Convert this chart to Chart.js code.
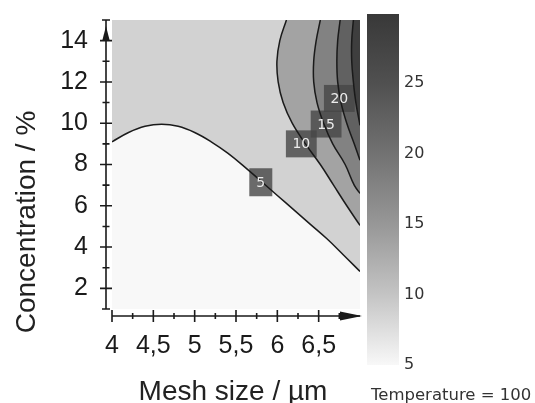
<!DOCTYPE html>
<html>
<head>
<meta charset="utf-8">
<script src="https://cdn.jsdelivr.net/npm/chart.js@4.4.0/dist/chart.umd.min.js"></script>
<style>
  html, body { margin: 0; padding: 0; background: #fff; }
</style>
</head>
<body>
<canvas id="grafico" width="535" height="403"></canvas>
<script>
// Contour lines (mesh size / µm, concentration / %)
const contour5X  = [4.0, 4.2, 4.4, 4.6, 4.8, 5.0, 5.2, 5.4, 5.6, 5.8, 6.0, 6.2, 6.4, 6.6, 6.8, 7.0];
const contour5Y  = [9.1, 9.55, 9.85, 9.95, 9.85, 9.55, 9.1, 8.55, 7.9, 7.2, 6.5, 5.8, 5.1, 4.4, 3.62, 2.82];
const contour10X = [6.11, 6.03, 5.995, 6.01, 6.07, 6.18, 6.34, 6.52, 6.68, 6.84, 7.0];
const contour10Y = [15, 14, 13, 12, 11, 10, 9, 8, 7, 6, 5.05];
const contour15X = [6.52, 6.47, 6.44, 6.44, 6.48, 6.56, 6.67, 6.82, 6.93, 7.0];
const contour15Y = [15, 14, 13, 12, 11, 10, 9, 8, 7, 6.6];
const contour20X = [6.76, 6.73, 6.72, 6.73, 6.77, 6.84, 6.93, 7.0];
const contour20Y = [15, 14, 13, 12, 11, 10, 9, 8.2];
const contour25X = [6.92, 6.90, 6.90, 6.92, 6.95, 7.0];
const contour25Y = [15, 14, 13, 12, 11, 9.9];

// contour labels
const labelX    = [5.80, 6.29, 6.59, 6.75];
const labelY    = [7.14, 9.0, 9.96, 11.2];
const labelText = ['5', '10', '15', '20'];

// axes
const xTicks = [4, 4.5, 5, 5.5, 6, 6.5];
const yTicks = [2, 4, 6, 8, 10, 12, 14];
const colorbarTicks = [5, 10, 15, 20, 25];
const colorbarMin = 5;
const colorbarMax = 30;

// band colours (>=5, >=10, >=15, >=20, >=25)
const bandColors = ['#d2d2d2', '#a3a3a3', '#828282', '#616161', '#3e3e3e'];

function puntos(xs, ys) {
    return xs.map((x, i) => ({ x: x, y: ys[i] }));
}

const lineas = [
    puntos(contour5X, contour5Y),
    puntos(contour10X, contour10Y),
    puntos(contour15X, contour15Y),
    puntos(contour20X, contour20Y),
    puntos(contour25X, contour25Y)
];

// region above each contour, closed through the plot corners (doubled points keep corners sharp)
function region(pts, corners) {
    const last = pts[pts.length - 1];
    const out = pts.slice();
    out.push(last);
    corners.forEach(c => { out.push(c); out.push(c); });
    return out;
}

const datasets = [];
lineas.forEach((pts, i) => {
    const corners = i === 0 ? [{ x: 7, y: 15 }, { x: 4, y: 15 }] : [{ x: 7, y: 15 }];
    datasets.push({
        data: region(pts, corners),
        showLine: true,
        fill: 'shape',
        backgroundColor: bandColors[i],
        borderWidth: 0,
        pointRadius: 0,
        tension: 0.4,
        order: 20 - i
    });
});
lineas.forEach(pts => {
    datasets.push({
        data: pts,
        showLine: true,
        fill: false,
        borderColor: '#1a1a1a',
        borderWidth: 1.5,
        pointRadius: 0,
        tension: 0.4,
        order: 1
    });
});

const fuente = "'Liberation Sans', Arial, sans-serif";
const fuenteCb = "'DejaVu Sans', sans-serif";

const dibujo = {
    id: 'dibujo',
    beforeDraw(chart) {
        const { ctx, chartArea: a } = chart;
        ctx.save();
        ctx.fillStyle = '#f8f8f8';
        ctx.fillRect(a.left, a.top, a.right - a.left, a.bottom - a.top);
        ctx.restore();
    },
    beforeDatasetsDraw(chart) {
        // label boxes (under the contour lines)
        const { ctx, scales: { x, y } } = chart;
        ctx.save();
        ctx.font = '14px ' + fuenteCb;
        labelText.forEach((t, i) => {
            const px = x.getPixelForValue(labelX[i]);
            const py = y.getPixelForValue(labelY[i]);
            const w = Math.max(23, ctx.measureText(t).width + 13);
            const h = t.length === 1 ? 28 : 27;
            ctx.fillStyle = 'rgba(70,70,70,0.8)';
            ctx.fillRect(px - w / 2, py - h / 2, w, h);
        });
        ctx.restore();
    },
    afterDatasetsDraw(chart) {
        const { ctx, scales: { x, y } } = chart;
        ctx.save();
        ctx.font = '14px ' + fuenteCb;
        ctx.fillStyle = '#ececec';
        ctx.textAlign = 'center';
        ctx.textBaseline = 'middle';
        labelText.forEach((t, i) => {
            ctx.fillText(t, x.getPixelForValue(labelX[i]), y.getPixelForValue(labelY[i]) + 1);
        });
        ctx.restore();
    },
    afterDraw(chart) {
        const { ctx, chartArea: a, scales: { x, y } } = chart;
        ctx.save();
        ctx.strokeStyle = '#1a1a1a';
        ctx.fillStyle = '#1a1a1a';
        ctx.lineWidth = 1.6;

        // eje Y
        const ax = a.left - 6;
        ctx.beginPath();
        ctx.moveTo(ax, y.getPixelForValue(15));
        ctx.lineTo(ax, y.getPixelForValue(1));
        ctx.moveTo(ax - 4, y.getPixelForValue(15));
        ctx.lineTo(ax + 4, y.getPixelForValue(15));
        ctx.moveTo(ax - 4, y.getPixelForValue(1));
        ctx.lineTo(ax + 4, y.getPixelForValue(1));
        for (let v = 2; v <= 14; v++) {
            const py = y.getPixelForValue(v);
            const l = v % 2 === 0 ? 6 : 3.5;
            ctx.moveTo(ax - l, py);
            ctx.lineTo(ax + l, py);
        }
        ctx.stroke();
        const top = y.getPixelForValue(15);
        ctx.beginPath();
        ctx.moveTo(ax, top + 6);
        ctx.lineTo(ax - 3.8, top + 21);
        ctx.lineTo(ax + 3.8, top + 21);
        ctx.closePath();
        ctx.fill();

        // eje X
        const ay = a.bottom + 7;
        ctx.beginPath();
        ctx.moveTo(x.getPixelForValue(4), ay);
        ctx.lineTo(a.right, ay);
        for (let v = 4; v < 6.9; v += 0.25) {
            const px = x.getPixelForValue(v);
            const l = Math.round(v * 4) % 2 === 0 ? 6 : 3;
            ctx.moveTo(px, ay - l);
            ctx.lineTo(px, ay + l);
        }
        ctx.stroke();
        ctx.beginPath();
        ctx.moveTo(a.right + 2, ay);
        ctx.lineTo(a.right - 20, ay - 4.5);
        ctx.lineTo(a.right - 20, ay + 4.5);
        ctx.closePath();
        ctx.fill();

        // títulos
        ctx.font = '28px ' + fuente;
        ctx.fillStyle = '#222';
        ctx.textAlign = 'center';
        ctx.textBaseline = 'alphabetic';
        ctx.fillText('Mesh size / µm', 233, 400);
        ctx.save();
        ctx.translate(35, 222);
        ctx.rotate(-Math.PI / 2);
        ctx.fillText('Concentration / %', 0, 0);
        ctx.restore();

        // barra de color
        const cbLeft = 367, cbRight = 399;
        const cbY = v => 365 - (v - colorbarMin) * 14.1;
        const g = ctx.createLinearGradient(0, cbY(colorbarMax), 0, cbY(colorbarMin));
        g.addColorStop(0, '#383838');
        g.addColorStop(0.2, '#505050');
        g.addColorStop(0.4, '#727272');
        g.addColorStop(0.6, '#979797');
        g.addColorStop(0.8, '#c4c4c4');
        g.addColorStop(1, '#f8f8f8');
        ctx.fillStyle = g;
        ctx.fillRect(cbLeft, 14, cbRight - cbLeft, cbY(colorbarMin) - 14);
        ctx.font = '16px ' + fuenteCb;
        ctx.fillStyle = '#333';
        ctx.textAlign = 'left';
        ctx.textBaseline = 'middle';
        colorbarTicks.forEach(v => ctx.fillText(String(v), 404, cbY(v)));
        ctx.font = '16.5px ' + fuenteCb;
        ctx.textBaseline = 'alphabetic';
        ctx.fillText('Temperature = 100', 371, 400);
        ctx.restore();
    }
};

const ctx = document.getElementById('grafico').getContext('2d');
new Chart(ctx, {
    type: 'scatter',
    data: { datasets: datasets },
    options: {
        responsive: false,
        animation: false,
        devicePixelRatio: 1,
        layout: { padding: { left: 0, right: 175, top: 20, bottom: 0 } },
        plugins: {
            legend: { display: false },
            tooltip: { enabled: false },
            filler: { drawTime: 'beforeDatasetsDraw' }
        },
        scales: {
            x: {
                type: 'linear',
                min: 4,
                max: 7,
                afterBuildTicks: s => { s.ticks = xTicks.map(v => ({ value: v })); },
                afterFit: s => { s.height = 94; s.paddingLeft = 0; s.paddingRight = 0; },
                grid: { display: false, drawTicks: false },
                border: { display: false },
                ticks: {
                    autoSkip: false,
                    maxRotation: 0,
                    padding: 22,
                    color: '#1a1a1a',
                    font: { family: fuente, size: 25 },
                    callback: v => String(v).replace('.', ',')
                }
            },
            y: {
                type: 'linear',
                min: 1,
                max: 15,
                afterBuildTicks: s => { s.ticks = yTicks.map(v => ({ value: v })); },
                afterFit: s => { s.width = 112; s.paddingTop = 0; s.paddingBottom = 0; },
                grid: { display: false, drawTicks: false },
                border: { display: false },
                ticks: {
                    autoSkip: false,
                    padding: 24,
                    color: '#1a1a1a',
                    font: { family: fuente, size: 25 },
                    callback: v => String(v)
                }
            }
        }
    },
    plugins: [dibujo]
});
</script>
</body>
</html>
